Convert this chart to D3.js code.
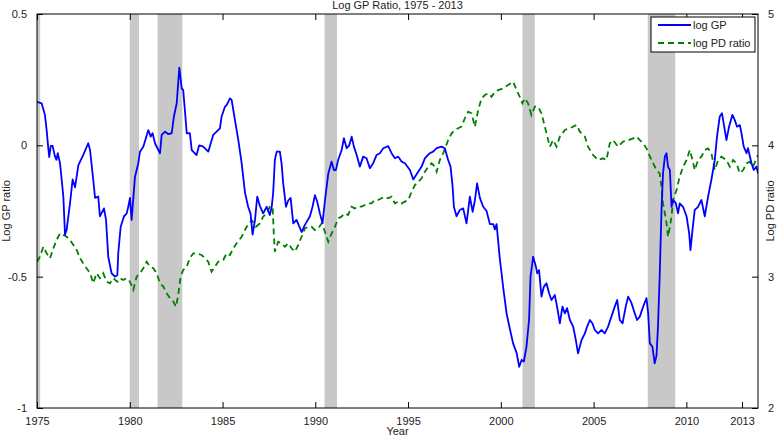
<!DOCTYPE html>
<html>
<head>
<meta charset="utf-8">
<script src="https://cdn.jsdelivr.net/npm/d3@7"></script>
<style>
  body { margin: 0; background: #fff; }
  text { font-family: "Liberation Sans", Arial, sans-serif; fill: #222; }
</style>
</head>
<body>
<div id="chart"></div>
<script>
// log GP ratio, [year, value]
var gpData = [
  [1975.00, 0.166], [1975.25, 0.160], [1975.43, 0.115], [1975.52, 0.058], [1975.60, -0.005], [1975.66, -0.045],
  [1975.74, -0.002], [1975.84, -0.002], [1975.96, -0.040], [1976.05, -0.055], [1976.12, -0.030], [1976.24, -0.068],
  [1976.33, -0.130], [1976.42, -0.195], [1976.51, -0.340], [1976.60, -0.320], [1976.78, -0.220], [1976.92, -0.130],
  [1977.05, -0.160], [1977.23, -0.075], [1977.49, -0.037], [1977.76, 0.008], [1977.86, -0.018], [1978.03, -0.130],
  [1978.13, -0.200], [1978.30, -0.195], [1978.39, -0.270], [1978.61, -0.240], [1978.72, -0.284], [1978.84, -0.424],
  [1979.02, -0.487], [1979.20, -0.500], [1979.33, -0.494], [1979.38, -0.410], [1979.51, -0.310], [1979.69, -0.270],
  [1979.83, -0.260], [1979.92, -0.234], [1980.01, -0.200], [1980.10, -0.284], [1980.28, -0.120], [1980.46, -0.068],
  [1980.55, -0.024], [1980.73, -0.005], [1981.00, 0.058], [1981.13, 0.033], [1981.23, 0.046], [1981.36, 0.008],
  [1981.54, -0.018], [1981.63, -0.030], [1981.72, 0.040], [1981.90, 0.052], [1982.07, 0.043], [1982.26, 0.046],
  [1982.38, 0.110], [1982.53, 0.160], [1982.67, 0.296], [1982.80, 0.217], [1982.88, 0.210], [1982.97, 0.135],
  [1983.07, 0.046], [1983.24, 0.046], [1983.34, -0.018], [1983.60, -0.037], [1983.74, 0.000], [1983.96, -0.005],
  [1984.23, -0.024], [1984.50, 0.040], [1984.68, 0.052], [1984.86, 0.065], [1984.95, 0.110], [1985.13, 0.147],
  [1985.22, 0.153], [1985.40, 0.179], [1985.49, 0.173], [1985.67, 0.096], [1985.85, 0.020], [1986.03, -0.068],
  [1986.21, -0.180], [1986.38, -0.234], [1986.51, -0.260], [1986.62, -0.340], [1986.75, -0.284], [1986.87, -0.195],
  [1987.01, -0.230], [1987.19, -0.259], [1987.38, -0.234], [1987.55, -0.265], [1987.65, -0.234], [1987.73, -0.180],
  [1987.82, -0.056], [1987.92, -0.024], [1988.09, -0.024], [1988.18, -0.068], [1988.27, -0.145], [1988.42, -0.234],
  [1988.54, -0.210], [1988.67, -0.200], [1988.81, -0.297], [1988.99, -0.284], [1989.26, -0.330], [1989.44, -0.303],
  [1989.71, -0.270], [1989.85, -0.234], [1989.98, -0.190], [1990.10, -0.214], [1990.25, -0.260], [1990.39, -0.297],
  [1990.52, -0.210], [1990.70, -0.107], [1990.88, -0.062], [1991.00, -0.094], [1991.11, -0.094], [1991.23, -0.056],
  [1991.42, -0.018], [1991.54, 0.027], [1991.69, -0.011], [1991.83, 0.000], [1991.96, 0.033], [1992.08, -0.005],
  [1992.23, -0.037], [1992.40, -0.081], [1992.58, -0.043], [1992.76, -0.049], [1992.94, -0.087], [1993.12, -0.068],
  [1993.30, -0.037], [1993.48, -0.030], [1993.66, -0.011], [1993.93, -0.003], [1994.11, -0.030], [1994.29, -0.049],
  [1994.47, -0.043], [1994.65, -0.062], [1994.83, -0.068], [1995.10, -0.094], [1995.28, -0.130], [1995.46, -0.110],
  [1995.73, -0.081], [1995.91, -0.049], [1996.17, -0.030], [1996.35, -0.024], [1996.54, -0.011], [1996.80, -0.005],
  [1996.98, -0.011], [1997.16, -0.056], [1997.29, -0.081], [1997.40, -0.157], [1997.47, -0.234], [1997.61, -0.270],
  [1997.79, -0.246], [1997.97, -0.240], [1998.15, -0.297], [1998.33, -0.195], [1998.48, -0.253], [1998.60, -0.210],
  [1998.72, -0.145], [1998.87, -0.200], [1999.05, -0.234], [1999.23, -0.250], [1999.41, -0.300], [1999.59, -0.300],
  [1999.68, -0.320], [1999.77, -0.300], [1999.85, -0.360], [1999.95, -0.436], [2000.04, -0.487], [2000.12, -0.538],
  [2000.31, -0.640], [2000.49, -0.700], [2000.66, -0.754], [2000.85, -0.790], [2000.99, -0.843], [2001.12, -0.817],
  [2001.24, -0.823], [2001.38, -0.767], [2001.52, -0.665], [2001.60, -0.500], [2001.74, -0.424], [2001.89, -0.462],
  [2001.96, -0.487], [2002.06, -0.475], [2002.19, -0.576], [2002.32, -0.538], [2002.46, -0.525], [2002.60, -0.563],
  [2002.73, -0.589], [2002.91, -0.570], [2003.03, -0.614], [2003.18, -0.678], [2003.32, -0.614], [2003.45, -0.640],
  [2003.57, -0.620], [2003.72, -0.665], [2003.90, -0.690], [2004.04, -0.741], [2004.16, -0.792], [2004.35, -0.741],
  [2004.53, -0.716], [2004.65, -0.690], [2004.80, -0.665], [2004.94, -0.678], [2005.06, -0.703], [2005.24, -0.716],
  [2005.43, -0.703], [2005.60, -0.716], [2005.78, -0.690], [2005.96, -0.652], [2006.14, -0.614], [2006.27, -0.589],
  [2006.41, -0.665], [2006.56, -0.678], [2006.73, -0.614], [2006.86, -0.576], [2007.04, -0.600], [2007.22, -0.640],
  [2007.34, -0.665], [2007.49, -0.652], [2007.67, -0.614], [2007.85, -0.582], [2007.94, -0.640], [2008.03, -0.754],
  [2008.17, -0.767], [2008.29, -0.830], [2008.39, -0.800], [2008.47, -0.690], [2008.56, -0.500], [2008.66, -0.246],
  [2008.74, -0.107], [2008.84, -0.043], [2008.93, -0.030], [2009.01, -0.081], [2009.11, -0.094], [2009.20, -0.234],
  [2009.28, -0.208], [2009.43, -0.220], [2009.55, -0.259], [2009.64, -0.221], [2009.82, -0.234], [2010.01, -0.270],
  [2010.15, -0.335], [2010.22, -0.399], [2010.33, -0.322], [2010.45, -0.246], [2010.63, -0.234], [2010.81, -0.208],
  [2010.99, -0.270], [2011.17, -0.195], [2011.35, -0.130], [2011.53, -0.056], [2011.65, 0.033], [2011.80, 0.110],
  [2011.92, 0.122], [2012.07, 0.058], [2012.16, 0.020], [2012.30, 0.071], [2012.48, 0.116], [2012.61, 0.096],
  [2012.73, 0.071], [2012.88, 0.077], [2012.97, 0.046], [2013.09, -0.005], [2013.24, -0.030], [2013.32, -0.011],
  [2013.51, -0.068], [2013.63, -0.094], [2013.78, -0.081], [2013.86, -0.107]
];

// log PD ratio (right axis), [year, value]
var pdData = [
  [1975.00, 3.114], [1975.16, 3.152], [1975.34, 3.228], [1975.52, 3.178], [1975.70, 3.140], [1975.88, 3.216],
  [1976.06, 3.279], [1976.24, 3.330], [1976.42, 3.317], [1976.60, 3.304], [1976.78, 3.279], [1976.96, 3.241],
  [1977.14, 3.203], [1977.32, 3.140], [1977.49, 3.102], [1977.67, 3.064], [1977.86, 3.026], [1978.03, 2.950],
  [1978.21, 3.026], [1978.39, 2.988], [1978.57, 3.026], [1978.75, 2.962], [1978.93, 2.950], [1979.11, 2.988],
  [1979.33, 2.962], [1979.47, 2.988], [1979.65, 2.975], [1979.83, 2.988], [1980.01, 2.962], [1980.19, 2.900],
  [1980.37, 3.000], [1980.55, 3.026], [1980.73, 3.064], [1980.91, 3.114], [1981.09, 3.076], [1981.27, 3.064],
  [1981.45, 3.026], [1981.63, 2.950], [1981.81, 2.924], [1981.99, 2.873], [1982.17, 2.835], [1982.35, 2.810],
  [1982.49, 2.771], [1982.61, 2.860], [1982.74, 3.000], [1982.88, 3.051], [1983.07, 3.076], [1983.24, 3.140],
  [1983.42, 3.178], [1983.60, 3.178], [1983.87, 3.165], [1984.05, 3.140], [1984.23, 3.114], [1984.41, 3.038],
  [1984.59, 3.076], [1984.77, 3.114], [1985.04, 3.127], [1985.22, 3.178], [1985.40, 3.165], [1985.58, 3.216],
  [1985.76, 3.254], [1986.03, 3.304], [1986.30, 3.380], [1986.57, 3.431], [1986.80, 3.380], [1987.01, 3.406],
  [1987.19, 3.457], [1987.38, 3.482], [1987.55, 3.533], [1987.70, 3.533], [1987.77, 3.304], [1987.82, 3.190],
  [1988.00, 3.266], [1988.18, 3.254], [1988.36, 3.228], [1988.54, 3.254], [1988.72, 3.216], [1988.90, 3.190],
  [1989.08, 3.241], [1989.26, 3.304], [1989.44, 3.368], [1989.62, 3.380], [1989.80, 3.380], [1989.98, 3.355],
  [1990.16, 3.368], [1990.34, 3.406], [1990.52, 3.342], [1990.70, 3.266], [1990.88, 3.330], [1991.06, 3.380],
  [1991.23, 3.444], [1991.41, 3.457], [1991.59, 3.482], [1991.77, 3.470], [1991.95, 3.533], [1992.13, 3.520],
  [1992.31, 3.533], [1992.49, 3.533], [1992.67, 3.546], [1992.85, 3.558], [1993.03, 3.558], [1993.21, 3.584],
  [1993.39, 3.584], [1993.57, 3.597], [1993.75, 3.609], [1993.93, 3.597], [1994.11, 3.609], [1994.29, 3.558],
  [1994.47, 3.571], [1994.65, 3.558], [1994.83, 3.571], [1995.01, 3.584], [1995.19, 3.647], [1995.37, 3.698],
  [1995.55, 3.723], [1995.73, 3.749], [1995.91, 3.799], [1996.09, 3.837], [1996.27, 3.863], [1996.45, 3.837],
  [1996.54, 3.799], [1996.71, 3.888], [1996.89, 3.939], [1997.03, 3.990], [1997.16, 4.040], [1997.34, 4.090],
  [1997.52, 4.117], [1997.70, 4.130], [1997.88, 4.142], [1998.06, 4.206], [1998.24, 4.256], [1998.42, 4.244],
  [1998.60, 4.142], [1998.78, 4.269], [1998.96, 4.358], [1999.14, 4.383], [1999.32, 4.396], [1999.50, 4.370],
  [1999.68, 4.408], [1999.85, 4.420], [2000.12, 4.434], [2000.39, 4.459], [2000.66, 4.485], [2000.85, 4.421],
  [2001.02, 4.370], [2001.16, 4.320], [2001.29, 4.358], [2001.47, 4.320], [2001.65, 4.231], [2001.83, 4.294],
  [2002.01, 4.294], [2002.19, 4.244], [2002.37, 4.142], [2002.46, 4.092], [2002.64, 3.990], [2002.82, 4.040],
  [2003.00, 3.990], [2003.18, 4.066], [2003.45, 4.117], [2003.72, 4.130], [2004.08, 4.155], [2004.26, 4.104],
  [2004.53, 4.066], [2004.70, 3.990], [2004.97, 3.926], [2005.24, 3.888], [2005.51, 3.901], [2005.69, 3.888],
  [2005.87, 4.015], [2006.05, 4.040], [2006.32, 3.990], [2006.59, 4.028], [2006.88, 4.040], [2007.13, 4.053],
  [2007.31, 4.066], [2007.49, 4.040], [2007.67, 4.015], [2007.85, 3.977], [2008.04, 3.913], [2008.21, 3.863],
  [2008.39, 3.812], [2008.56, 3.787], [2008.66, 3.685], [2008.74, 3.558], [2008.84, 3.482], [2008.93, 3.406],
  [2009.01, 3.304], [2009.11, 3.380], [2009.20, 3.457], [2009.28, 3.584], [2009.47, 3.660], [2009.64, 3.761],
  [2009.82, 3.837], [2010.01, 3.888], [2010.18, 3.964], [2010.33, 3.888], [2010.45, 3.812], [2010.63, 3.888],
  [2010.81, 3.913], [2010.99, 3.964], [2011.17, 3.977], [2011.35, 3.939], [2011.53, 3.812], [2011.71, 3.888],
  [2011.89, 3.913], [2012.16, 3.888], [2012.34, 3.837], [2012.52, 3.888], [2012.70, 3.863], [2012.88, 3.787],
  [2013.06, 3.812], [2013.24, 3.863], [2013.41, 3.875], [2013.59, 3.837], [2013.86, 3.926]
];

// NBER recessions, [start, end]
var recessions = [
  [1975.00, 1975.17], [1980.00, 1980.50], [1981.50, 1982.83],
  [1990.50, 1991.17], [2001.17, 2001.83], [2007.92, 2009.40]
];

var xTicks = [1975, 1980, 1985, 1990, 1995, 2000, 2005, 2010, 2013];
var gpTicks = [-1, -0.5, 0, 0.5];
var pdTicks = [2, 3, 4, 5];

var margin = {top: 14, right: 20, bottom: 36, left: 37},
    width = 778 - margin.left - margin.right,
    height = 444 - margin.top - margin.bottom;

var svg = d3.select("#chart").append("svg")
    .attr("width", 778)
    .attr("height", 444)
  .append("g")
    .attr("transform", "translate(" + margin.left + "," + margin.top + ")");

var x = d3.scaleLinear().domain([1975, 2013.86]).range([0, width]);
var yL = d3.scaleLinear().domain([-1, 0.5]).range([height, 0]);
var yR = d3.scaleLinear().domain([2, 5]).range([height, 0]);

// recession bands
svg.selectAll(".band")
    .data(recessions)
  .enter().append("rect")
    .attr("class", "band")
    .attr("x", function(d) { return x(d[0]); })
    .attr("width", function(d) { return x(d[1]) - x(d[0]); })
    .attr("y", 0)
    .attr("height", height)
    .attr("fill", "#c8c8c8");

svg.append("clipPath").attr("id", "clip")
  .append("rect").attr("width", width).attr("height", height);

var lineL = d3.line()
    .x(function(d) { return x(d[0]); })
    .y(function(d) { return yL(d[1]); });

var lineR = d3.line()
    .x(function(d) { return x(d[0]); })
    .y(function(d) { return yR(d[1]); });

svg.append("path")
    .datum(pdData)
    .attr("clip-path", "url(#clip)")
    .attr("fill", "none")
    .attr("stroke", "#008000")
    .attr("stroke-width", 1.8)
    .attr("stroke-dasharray", "6,4")
    .attr("d", lineR);

svg.append("path")
    .datum(gpData)
    .attr("clip-path", "url(#clip)")
    .attr("fill", "none")
    .attr("stroke", "#0000ff")
    .attr("stroke-width", 1.8)
    .attr("stroke-linejoin", "round")
    .attr("d", lineL);

// axes (MATLAB style, ticks pointing inward)
function styleAxis(g) {
  g.select(".domain").remove();
  g.selectAll(".tick line").attr("stroke", "#000");
  g.selectAll(".tick text")
    .style("font-family", "'Liberation Sans', Arial, sans-serif")
    .style("font-size", "11px")
    .attr("fill", "#222");
}

svg.append("g")
    .attr("transform", "translate(0," + height + ")")
    .call(d3.axisBottom(x).tickValues(xTicks).tickFormat(d3.format("d"))
      .tickSizeInner(-6).tickSizeOuter(0).tickPadding(9))
    .call(styleAxis);

svg.append("g")
    .call(d3.axisTop(x).tickValues(xTicks).tickFormat("")
      .tickSizeInner(-6).tickSizeOuter(0))
    .call(styleAxis);

svg.append("g")
    .call(d3.axisLeft(yL).tickValues(gpTicks).tickFormat(function(d) { return d === 0 ? "0" : d; })
      .tickSizeInner(-6).tickSizeOuter(0).tickPadding(10))
    .call(styleAxis);

svg.append("g")
    .attr("transform", "translate(" + width + ",0)")
    .call(d3.axisRight(yR).tickValues(pdTicks).tickFormat(d3.format("d"))
      .tickSizeInner(-6).tickSizeOuter(0).tickPadding(10))
    .call(styleAxis);

// frame
svg.append("rect")
    .attr("width", width)
    .attr("height", height)
    .attr("fill", "none")
    .attr("stroke", "#000")
    .attr("stroke-width", 1);

// labels
svg.append("text")
    .attr("x", width / 2)
    .attr("y", -5)
    .attr("text-anchor", "middle")
    .style("font-size", "11px")
    .text("Log GP Ratio, 1975 - 2013");

svg.append("text")
    .attr("x", width / 2)
    .attr("y", height + 27)
    .attr("text-anchor", "middle")
    .style("font-size", "11px")
    .text("Year");

svg.append("text")
    .attr("transform", "translate(" + (-27) + "," + (height / 2) + ") rotate(-90)")
    .attr("text-anchor", "middle")
    .style("font-size", "11px")
    .text("Log GP ratio");

svg.append("text")
    .attr("transform", "translate(" + (width + 16) + "," + (height / 2) + ") rotate(-90)")
    .attr("text-anchor", "middle")
    .style("font-size", "11px")
    .text("Log PD ratio");

// legend
var legend = svg.append("g")
    .attr("transform", "translate(" + (width - 107) + ",3)");

legend.append("rect")
    .attr("width", 104)
    .attr("height", 35)
    .attr("fill", "#fff")
    .attr("stroke", "#000")
    .attr("stroke-width", 1);

var legendItems = [
  {label: "log GP", color: "#0000ff", dash: null},
  {label: "log PD ratio", color: "#008000", dash: "6,4"}
];

legendItems.forEach(function(d, i) {
  var yy = 8 + i * 18;
  legend.append("line")
      .attr("x1", 7).attr("x2", 40)
      .attr("y1", yy).attr("y2", yy)
      .attr("stroke", d.color)
      .attr("stroke-width", 1.8)
      .attr("stroke-dasharray", d.dash);
  legend.append("text")
      .attr("x", 42)
      .attr("y", yy + 4)
      .style("font-size", "11px")
      .text(d.label);
});
</script>
</body>
</html>
